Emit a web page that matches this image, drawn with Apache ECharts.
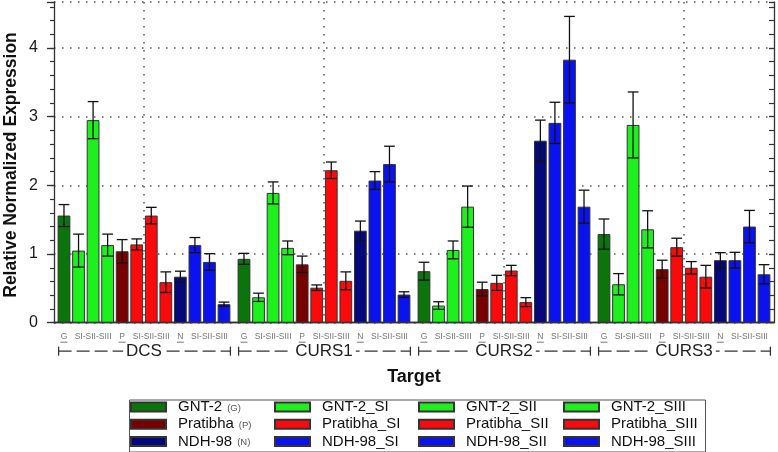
<!DOCTYPE html>
<html><head><meta charset="utf-8">
<script src="https://cdn.jsdelivr.net/npm/echarts@6/dist/echarts.min.js"></script>
<style>html,body{margin:0;padding:0;background:#fff}#c{width:778px;height:452px}</style>
</head><body><div id="c"></div>
<script>
// ---------------- data ----------------
const targets = ['DCS', 'CURS1', 'CURS2', 'CURS3'];
const seriesNames = ['GNT-2', 'GNT-2_SI', 'GNT-2_SII', 'GNT-2_SIII',
  'Pratibha', 'Pratibha_SI', 'Pratibha_SII', 'Pratibha_SIII',
  'NDH-98', 'NDH-98_SI', 'NDH-98_SII', 'NDH-98_SIII'];
const seriesAbbr = ['G', '', '', '', 'P', '', '', '', 'N', '', '', ''];
// values per target: DCS, CURS1, CURS2, CURS3
const gnt2         = [1.56, 0.93, 0.75, 1.29];
const gnt2SI       = [1.05, 0.37, 0.25, 0.56];
const gnt2SII      = [2.95, 1.89, 1.06, 2.88];
const gnt2SIII     = [1.13, 1.09, 1.69, 1.36];
const pratibha     = [1.04, 0.85, 0.49, 0.78];
const pratibhaSI   = [1.14, 0.51, 0.58, 1.10];
const pratibhaSII  = [1.56, 2.22, 0.76, 0.80];
const pratibhaSIII = [0.59, 0.61, 0.30, 0.67];
const ndh98        = [0.67, 1.34, 2.65, 0.91];
const ndh98SI      = [1.13, 2.07, 2.91, 0.91];
const ndh98SII     = [0.885, 2.31, 3.83, 1.40];
const ndh98SIII    = [0.27, 0.41, 1.69, 0.705];
// error (+/-) per target
const gnt2Err         = [0.16, 0.08, 0.13, 0.22];
const gnt2SIErr       = [0.24, 0.06, 0.055, 0.155];
const gnt2SIIErr      = [0.27, 0.16, 0.13, 0.48];
const gnt2SIIIErr     = [0.16, 0.10, 0.30, 0.27];
const pratibhaErr     = [0.17, 0.12, 0.10, 0.13];
const pratibhaSIErr   = [0.08, 0.04, 0.11, 0.13];
const pratibhaSIIErr  = [0.12, 0.12, 0.075, 0.09];
const pratibhaSIIIErr = [0.15, 0.13, 0.065, 0.165];
const ndh98Err        = [0.08, 0.14, 0.30, 0.11];
const ndh98SIErr      = [0.11, 0.13, 0.30, 0.115];
const ndh98SIIErr     = [0.12, 0.26, 0.63, 0.235];
const ndh98SIIIErr    = [0.03, 0.04, 0.24, 0.14];
// sub labels under each target group
const subLabels = ['G', 'SI-SII-SIII', 'P', 'SI-SII-SIII', 'N', 'SI-SII-SIII'];
const subSpans = [[0, 0], [1, 3], [4, 4], [5, 7], [8, 8], [9, 11]];
const subUnderline = [true, false, true, false, true, false];
const yMin = 0, yMax = 4.67;

const values = [gnt2, gnt2SI, gnt2SII, gnt2SIII, pratibha, pratibhaSI, pratibhaSII, pratibhaSIII, ndh98, ndh98SI, ndh98SII, ndh98SIII];
const errors = [gnt2Err, gnt2SIErr, gnt2SIIErr, gnt2SIIIErr, pratibhaErr, pratibhaSIErr, pratibhaSIIErr, pratibhaSIIIErr, ndh98Err, ndh98SIErr, ndh98SIIErr, ndh98SIIIErr];

// ---------------- style ----------------
const DARKG = '#0a760a', LIGHTG = '#1ef01e', DARKR = '#780000', RED = '#fa0a0a', NAVY = '#04087a', BLUE = '#0a12f0';
const colors = [DARKG, LIGHTG, LIGHTG, LIGHTG, DARKR, RED, RED, RED, NAVY, BLUE, BLUE, BLUE];
const FONT = '"Liberation Sans", Arial, sans-serif';
const CAT_GAP = 0.04, BAR_GAP = 0.14;

function barGeom(api, ci) {
  const c = api.coord([ci, 0]);
  const band = api.size([1, 0])[0];
  const usable = band * (1 - CAT_GAP);
  const bw = usable / (12 + 11 * BAR_GAP);
  const x0 = c[0] - usable / 2;
  return { c, usable, bw, x0, center: i => x0 + i * bw * (1 + BAR_GAP) + bw / 2 };
}

const chart = echarts.init(document.getElementById('c'), null, { renderer: 'canvas' });

const barSeries = seriesNames.map((n, i) => ({
  name: n, type: 'bar', data: values[i],
  barGap: (BAR_GAP * 100) + '%', barCategoryGap: (CAT_GAP * 100) + '%',
  itemStyle: { color: colors[i], borderColor: '#333', borderWidth: 1 },
  z: 3
}));

const errData = [];
values.forEach((arr, si) => arr.forEach((v, ci) => errData.push([ci, si, v, errors[si][ci]])));

const errSeries = {
  type: 'custom', name: 'err', data: errData, z: 5,
  encode: { x: 0, y: 2 },
  renderItem: function (params, api) {
    const ci = api.value(0), si = api.value(1), v = api.value(2), e = api.value(3);
    const g = barGeom(api, ci);
    const x = g.center(si);
    const yt = api.coord([ci, v + e])[1], yb = api.coord([ci, v - e])[1];
    const hw = g.bw * 0.42;
    const st = { stroke: '#111', lineWidth: 1.3 };
    return { type: 'group', children: [
      { type: 'line', shape: { x1: x, y1: yt, x2: x, y2: yb }, style: st },
      { type: 'line', shape: { x1: x - hw, y1: yt, x2: x + hw, y2: yt }, style: st },
      { type: 'line', shape: { x1: x - hw, y1: yb, x2: x + hw, y2: yb }, style: st }
    ] };
  }
};

const decoSeries = {
  type: 'custom', name: 'deco', data: targets.map((t, i) => [i, 0]), z: 1, clip: false, silent: true,
  encode: { x: 0, y: 1 },
  renderItem: function (params, api) {
    const ci = api.value(0);
    const g = barGeom(api, ci);
    const yA = g.c[1];
    const yTop = api.coord([ci, yMax])[1];
    const ch = [];
    ch.push({ type: 'line', shape: { x1: g.c[0], y1: yTop, x2: g.c[0], y2: yA }, style: { stroke: '#555', lineWidth: 1.5, lineDash: [1.5, 6.5] } });
    subLabels.forEach((lab, k) => {
      const x = (g.center(subSpans[k][0]) + g.center(subSpans[k][1])) / 2;
      ch.push({ type: 'text', x: x, y: yA + 14, style: { text: lab, fontSize: 8.5, fontFamily: FONT, fill: '#777', align: 'center', verticalAlign: 'middle' } });
      if (subUnderline[k]) ch.push({ type: 'line', shape: { x1: x - 3.5, y1: yA + 19.5, x2: x + 3.5, y2: yA + 19.5 }, style: { stroke: '#777', lineWidth: 1 } });
    });
    const yb = yA + 28.5;
    const xl = g.x0 + 1, xr = g.x0 + g.usable;
    const ls = { stroke: '#333', lineWidth: 1.3 };
    ch.push({ type: 'line', shape: { x1: xl, y1: yb - 4.5, x2: xl, y2: yb + 4.5 }, style: ls });
    ch.push({ type: 'line', shape: { x1: xr, y1: yb - 4.5, x2: xr, y2: yb + 4.5 }, style: ls });
    ch.push({ type: 'line', shape: { x1: xl, y1: yb, x2: xr, y2: yb }, style: { stroke: '#333', lineWidth: 1.3, lineDash: [13, 5] } });
    ch.push({ type: 'text', x: g.c[0], y: yb + 0.5, style: { text: targets[ci], fontSize: 17, fontFamily: FONT, fill: '#222', align: 'center', verticalAlign: 'middle', backgroundColor: '#fff', padding: [0, 3] } });
    return { type: 'group', children: ch };
  }
};

const legendLefts = [130, 274, 418, 563];
const legends = [0, 1, 2, 3].map(c => ({
  orient: 'vertical', left: legendLefts[c], top: 399.5, padding: 0,
  itemWidth: 35, itemHeight: 9, itemGap: 2.2, icon: 'rect', selectedMode: false,
  data: [seriesNames[c], seriesNames[4 + c], seriesNames[8 + c]],
  formatter: function (name) {
    const a = seriesAbbr[seriesNames.indexOf(name)];
    return '{n|' + name + '}' + (a ? '{s|(' + a + ')}' : '');
  },
  textStyle: {
    rich: {
      n: { fontSize: 15, fontFamily: FONT, color: '#111', padding: [0, 0, 0, 7], lineHeight: 16 },
      s: { fontSize: 9.5, fontFamily: FONT, color: '#555', padding: [2, 0, 0, 5], lineHeight: 16 }
    }
  }
}));

const yCommon = { type: 'value', min: yMin, max: yMax, scale: false };
const option = {
  animation: false,
  backgroundColor: '#fff',
  grid: { left: 54, right: 4, top: 2, bottom: 129.3, containLabel: false },
  legend: legends,
  xAxis: [
    { type: 'category', data: targets, position: 'bottom',
      axisLine: { lineStyle: { color: '#333', width: 1.3 } },
      axisTick: { alignWithLabel: true, length: 15, lineStyle: { color: '#333', width: 1.3 } },
      axisLabel: { show: false }, splitLine: { show: false } },
    { type: 'category', data: targets, position: 'top',
      axisLine: { lineStyle: { color: '#333', width: 1.3 } },
      axisTick: { show: false }, axisLabel: { show: false } }
  ],
  yAxis: [
    Object.assign({}, yCommon, { position: 'left', interval: 1,
      axisLine: { show: true, lineStyle: { color: '#333', width: 1.3 } },
      axisTick: { show: true, length: 7, lineStyle: { color: '#333', width: 1.3 } },
      axisLabel: { margin: 16, fontSize: 16, fontFamily: FONT, color: '#1a1a1a',
        formatter: v => (Math.abs(v - Math.round(v)) < 1e-6 ? String(Math.round(v)) : '') },
      splitLine: { show: true, lineStyle: { color: '#555', width: 1.5, type: [1.5, 6.5] } } }),
    Object.assign({}, yCommon, { position: 'left', interval: 0.2,
      axisLine: { show: false }, axisTick: { show: true, length: 4, lineStyle: { color: '#333', width: 1.2 } },
      axisLabel: { show: false }, splitLine: { show: false } }),
    Object.assign({}, yCommon, { position: 'right', interval: 1,
      axisLine: { show: true, lineStyle: { color: '#333', width: 1.3 } },
      axisTick: { show: true, inside: true, length: 5, lineStyle: { color: '#333', width: 1.2 } },
      axisLabel: { show: false }, splitLine: { show: false } }),
    Object.assign({}, yCommon, { position: 'right', interval: 0.2,
      axisLine: { show: false }, axisTick: { show: true, inside: true, length: 5, lineStyle: { color: '#333', width: 1.2 } },
      axisLabel: { show: false }, splitLine: { show: false } })
  ],
  graphic: [
    { type: 'rect', left: 127, top: 397.5, shape: { width: 576, height: 52 }, style: { fill: 'none', stroke: '#555', lineWidth: 1 }, z: -1 },
    { type: 'text', x: 414, y: 377, style: { text: 'Target', fontSize: 18, fontWeight: 'bold', fontFamily: FONT, fill: '#111', align: 'center', verticalAlign: 'middle' } },
    { type: 'text', x: 11, y: 165, rotation: Math.PI / 2, style: { text: 'Relative Normalized Expression', fontSize: 17.5, fontWeight: 'bold', fontFamily: FONT, fill: '#111', align: 'center', verticalAlign: 'middle' } }
  ],
  series: [decoSeries].concat(barSeries).concat([errSeries])
};
chart.setOption(option);
</script>
</body></html>
